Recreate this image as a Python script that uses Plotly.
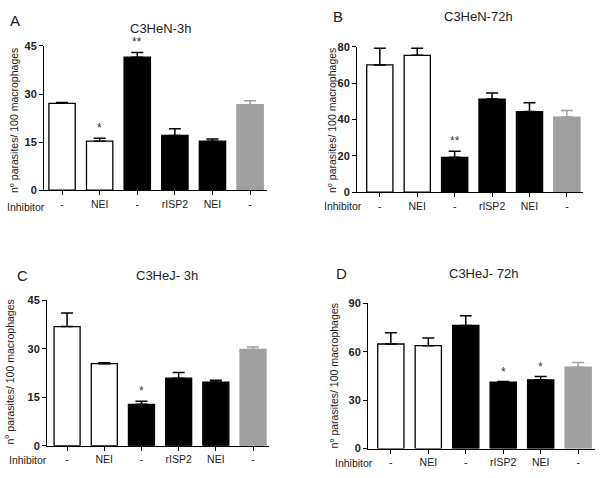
import plotly.graph_objects as go

# ---------------- data ----------------
categories = ["-", "NEI", "-", "rISP2", "NEI", "-"]
bar_colors = ["white", "white", "black", "black", "black", "#a0a0a0"]

A_title = "C3HeN-3h"
A_means = [27.1, 15.3, 41.5, 17.1, 15.3, 26.7]
A_err = [0.3, 0.9, 1.5, 2.1, 0.7, 1.2]
A_ticks = [0, 15, 30, 45]
A_stars = {1: "*", 2: "**"}

B_title = "C3HeN-72h"
B_means = [70.1, 75.4, 19.2, 51.3, 44.4, 41.4]
B_err = [9.2, 3.9, 3.3, 3.4, 4.9, 3.6]
B_ticks = [0, 20, 40, 60, 80]
B_stars = {2: "**"}

C_title = "C3HeJ- 3h"
C_means = [36.9, 25.4, 12.8, 20.9, 19.7, 29.8]
C_err = [4.2, 0.3, 1.0, 1.8, 0.6, 0.8]
C_ticks = [0, 15, 30, 45]
C_stars = {2: "*"}

D_title = "C3HeJ- 72h"
D_means = [64.8, 63.8, 76.3, 41.2, 42.6, 50.4]
D_err = [7.0, 4.7, 6.0, 0.3, 2.0, 3.0]
D_ticks = [0, 30, 60, 90]
D_stars = {3: "*", 4: "*"}

y_label = "n<sup>o</sup> parasites/ 100 macrophages"

# ---------------- layout helpers ----------------
W, H = 600, 478
FONT = "Liberation Sans, Arial, sans-serif"
TXT = "#222222"

def fx(px):
    return px / W

def fy(py):
    return 1 - py / H

panels = [
    dict(letter="A", title=A_title, means=A_means, err=A_err, ticks=A_ticks, stars=A_stars,
         box=(44, 267, 41, 189), xr=(-0.48, 5.45),
         lpos=(15, 15), tpos=(160, 23), ypos=(13, 118), ipos=(5, 206)),
    dict(letter="B", title=B_title, means=B_means, err=B_err, ticks=B_ticks, stars=B_stars,
         box=(357, 583, 42, 191), xr=(-0.61, 5.43),
         lpos=(338, 11), tpos=(478, 11), ypos=(331, 118), ipos=(322, 205)),
    dict(letter="C", title=C_title, means=C_means, err=C_err, ticks=C_ticks, stars=C_stars,
         box=(47, 269, 302, 451), xr=(-0.54, 5.43),
         lpos=(22, 276), tpos=(167, 276), ypos=(9, 376), ipos=(7, 466)),
    dict(letter="D", title=D_title, means=D_means, err=D_err, ticks=D_ticks, stars=D_stars,
         box=(368, 595, 305, 454), xr=(-0.61, 5.45),
         lpos=(342, 274), tpos=(483, 274), ypos=(333, 380), ipos=(333, 469)),
]

fig = go.Figure()
annotations = []
xs = list(range(len(categories)))

for i, p in enumerate(panels, start=1):
    xa = "x" if i == 1 else f"x{i}"
    ya = "y" if i == 1 else f"y{i}"
    groups = {}
    for k, c in enumerate(bar_colors):
        groups.setdefault(c, []).append(k)
    for c, idx in groups.items():
        ecol = "#a0a0a0" if c == "#a0a0a0" else "black"
        fig.add_trace(go.Bar(
            x=[xs[k] for k in idx], y=[p["means"][k] for k in idx],
            width=0.7,
            marker=dict(color=c, line=dict(color="black" if c != "#a0a0a0" else "#a0a0a0", width=1.3)),
            error_y=dict(type="data", symmetric=False,
                         array=[p["err"][k] for k in idx],
                         arrayminus=[0] * len(idx),
                         color=ecol, thickness=1.5, width=6),
            xaxis=xa, yaxis=ya, showlegend=False, hoverinfo="skip",
        ))
    x0, x1, yt, yb = p["box"]
    fig.layout[f"xaxis{'' if i == 1 else i}"] = dict(
        domain=[fx(x0), fx(x1)], anchor=ya, range=list(p["xr"]),
        tickvals=xs, ticktext=categories, ticks="outside", ticklen=4,
        tickcolor="black", showline=True, linecolor="black", linewidth=1,
        showgrid=False, zeroline=False, fixedrange=True,
        tickfont=dict(family=FONT, size=10.5, color=TXT),
    )
    fig.layout[f"yaxis{'' if i == 1 else i}"] = dict(
        domain=[fy(yb), fy(yt)], anchor=xa, range=[0, p["ticks"][-1]],
        tickvals=p["ticks"], ticks="outside", ticklen=4, tickcolor="black",
        showline=True, linecolor="black", linewidth=1,
        showgrid=False, zeroline=False, fixedrange=True,
        tickfont=dict(family=FONT, size=11, color=TXT, weight="bold"),
    )
    for k, s in p["stars"].items():
        annotations.append(dict(
            x=xs[k], y=p["means"][k] + p["err"][k], xref=xa, yref=ya,
            text=s, showarrow=False, yanchor="bottom", yshift=1,
            font=dict(family=FONT, size=12, color="#333333"),
        ))
    annotations.append(dict(x=fx(p["lpos"][0]), y=fy(p["lpos"][1]), xref="paper", yref="paper",
                            text=p["letter"], showarrow=False, xanchor="center", yanchor="middle",
                            font=dict(family=FONT, size=15, color=TXT)))
    annotations.append(dict(x=fx(p["tpos"][0]), y=fy(p["tpos"][1]), xref="paper", yref="paper",
                            text=p["title"], showarrow=False, xanchor="center", yanchor="middle",
                            font=dict(family=FONT, size=13, color=TXT)))
    annotations.append(dict(x=fx(p["ypos"][0]), y=fy(p["ypos"][1]), xref="paper", yref="paper",
                            text=y_label, showarrow=False, textangle=-90,
                            xanchor="center", yanchor="middle",
                            font=dict(family=FONT, size=10.5, color=TXT)))
    annotations.append(dict(x=fx(p["ipos"][0]), y=fy(p["ipos"][1]), xref="paper", yref="paper",
                            text="Inhibitor", showarrow=False, xanchor="left", yanchor="middle",
                            font=dict(family=FONT, size=10.5, color=TXT)))

fig.update_layout(
    width=W, height=H, margin=dict(l=0, r=0, t=0, b=0),
    paper_bgcolor="white", plot_bgcolor="white",
    barmode="overlay", annotations=annotations, showlegend=False,
)

# remove the browser's default 8px page margin so the 600x478 figure fills the window
fig.write_html("out.html",
               config={"displayModeBar": False, "staticPlot": True},
               post_script="document.body.style.margin='0';document.body.style.overflow='hidden';")
